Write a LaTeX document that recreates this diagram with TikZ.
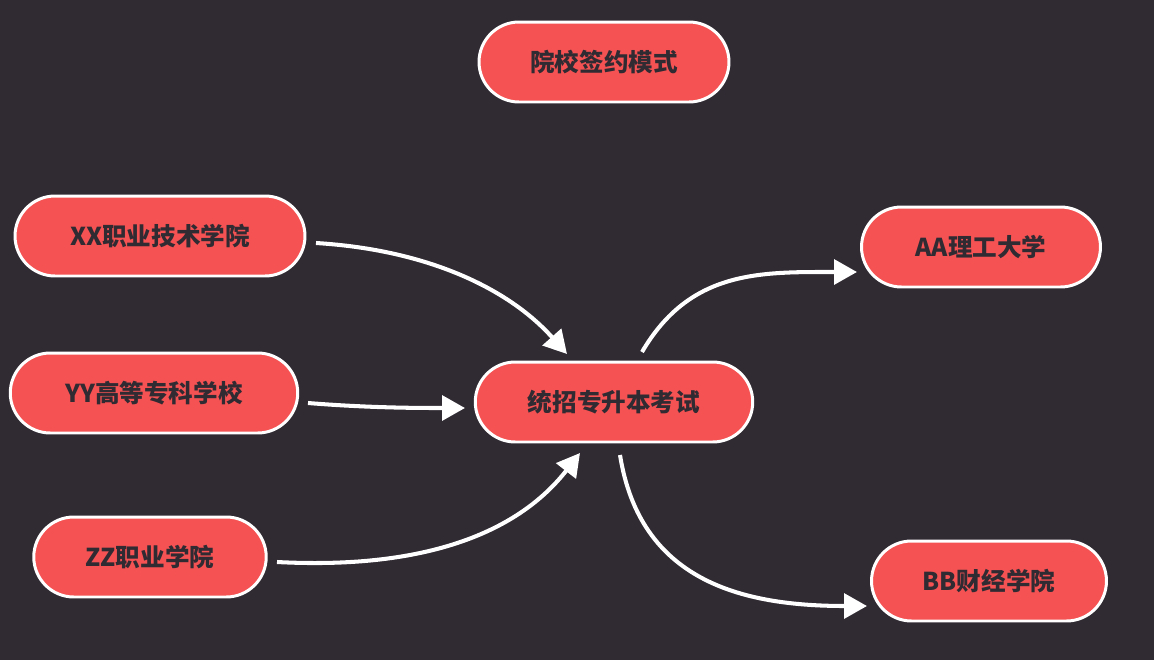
\documentclass[tikz,border=0pt]{standalone}
\usepackage{fontspec}
\setmainfont{Noto Sans CJK SC}
\usetikzlibrary{arrows.meta}
\definecolor{bg}{HTML}{302A33}
\definecolor{nodefill}{HTML}{F55353}
\begin{document}
\begin{tikzpicture}[x=0.02cm,y=-0.02cm,
  box/.style={draw=white,line width=1.7pt,fill=nodefill,rounded corners=0.8cm,
    minimum height=1.6cm,text=bg,font=\fontsize{14}{16}\selectfont\bfseries,inner sep=0pt},
  conn/.style={draw=white,line width=2.3pt,-{Triangle[length=13pt,width=14pt]}}]
\fill[bg] (0,0) rectangle (1154,660);
\node[box,minimum width=5.0cm] (top) at (604,62) {院校签约模式};
\node[box,minimum width=5.8cm] (xx) at (160,236) {XX职业技术学院};
\node[box,minimum width=5.75cm] (yy) at (154,393) {YY高等专科学校};
\node[box,minimum width=4.65cm] (zz) at (150,557) {ZZ职业学院};
\node[box,minimum width=5.55cm] (c) at (614,402) {统招专升本考试};
\node[box,minimum width=4.78cm] (aa) at (981,247) {AA理工大学};
\node[box,minimum width=4.7cm] (bb) at (989,581) {BB财经学院};
\coordinate (xs) at (316,243); \coordinate (xe) at (567,354);
\coordinate (ys) at (308,403); \coordinate (ye) at (465,408);
\coordinate (zs) at (277,562); \coordinate (ze) at (580,453);
\coordinate (as) at (642,352); \coordinate (ae) at (857,272);
\coordinate (bs) at (620,455); \coordinate (be) at (867,606);
\draw[conn] (xs) .. controls (430,250) and (510,290) .. (xe);
\draw[conn] (ys) .. controls (370,408) and (420,408) .. (ye);
\draw[conn] (zs) .. controls (430,570) and (520,530) .. (ze);
\draw[conn] (as) .. controls (690,270) and (760,272) .. (ae);
\draw[conn] (bs) .. controls (640,580) and (740,606) .. (be);
\end{tikzpicture}
\end{document}
